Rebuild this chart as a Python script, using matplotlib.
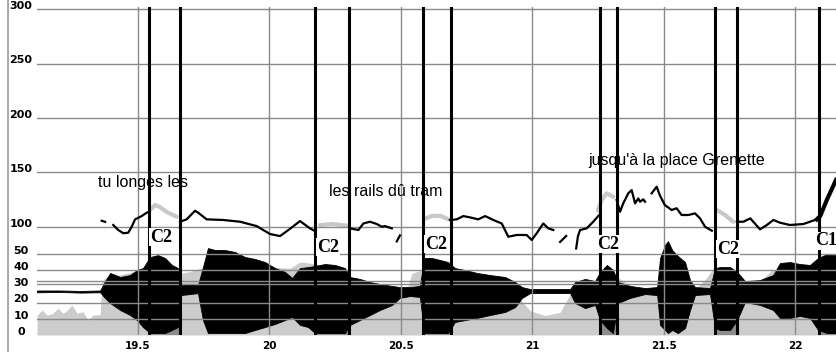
import numpy as np
import matplotlib.pyplot as plt
from matplotlib.lines import Line2D
from matplotlib.transforms import ScaledTranslation

# time axis (s)
x_ticks = [19.5, 20.0, 20.5, 21.0, 21.5, 22.0]
x_labels = ['19.5', '20', '20.5', '21', '21.5', '22']
f0_ticks = [100, 150, 200, 250, 300]
amp_ticks = [0, 10, 20, 30, 40, 50]
amp_grid = [10, 20, 31.4, 33.4, 40, 50]

# segment boundaries (black vertical lines)
bounds = [19.543, 19.661, 20.174, 20.303, 20.585, 20.691, 21.258, 21.322,
          21.695, 21.777, 22.089]
dark_spans = [(19.543, 19.661), (20.174, 20.303), (20.585, 20.691),
              (21.258, 21.322), (21.695, 21.777), (22.089, 22.155)]

# labels on segments
seg_t = [19.589, 20.223, 20.634, 21.288, 21.744, 22.117]
seg_hz = [90.5, 81.3, 84.1, 84.1, 79.5, 86.9]
seg_txt = ['C2', 'C2', 'C2', 'C2', 'C2', 'C1']

# words
word_t = [19.349, 20.227, 21.212]
word_hz = [141.1, 132.8, 161.3]
word_txt = ['tu longes les', 'les rails dû tram', "jusqu'à la place Grenette"]

# F0 track (Hz), black pieces
f0_black = [
    ([19.363, 19.376], [105.5, 104.5]),
    ([19.407, 19.426, 19.445, 19.464, 19.477, 19.490, 19.515, 19.534, 19.543],
     [101.6, 97, 94, 94.5, 100, 106.8, 109.8, 112.9, 114]),
    ([19.661, 19.686, 19.718, 19.730, 19.762, 19.825, 19.889, 19.952, 20.003,
      20.041, 20.073, 20.117, 20.155, 20.174],
     [104.6, 106.8, 114.7, 112.9, 106.8, 106.2, 104.6, 100.6, 93.3, 91.4, 97,
      105.2, 98.5, 96]),
    ([20.307, 20.339, 20.358, 20.383, 20.409, 20.428, 20.440, 20.466],
     [98.5, 97, 103, 104.6, 102.5, 100, 100.6, 98.5]),
    ([20.485, 20.497], [86.5, 92]),
    ([20.687, 20.713, 20.738, 20.763, 20.795, 20.821, 20.852, 20.884, 20.909,
      20.941, 20.979, 20.998, 21.017, 21.042, 21.061, 21.080],
     [106.2, 106.8, 109.8, 108.6, 106.8, 109.8, 106.2, 103, 90.8, 92.4, 92.4,
      87.8, 94, 103, 98.5, 97]),
    ([21.106, 21.129], [86, 91.5]),
    ([21.167, 21.174, 21.182, 21.207, 21.232, 21.251, 21.257],
     [80, 91.5, 97, 98.5, 104.6, 109.8, 111]),
    ([21.321, 21.334, 21.346, 21.365, 21.378, 21.391, 21.403, 21.410, 21.422,
      21.429],
     [124.6, 113.8, 121.5, 130.7, 133.7, 121.5, 126, 123, 125.2, 123]),
    ([21.454, 21.473, 21.485, 21.504, 21.530, 21.549, 21.568, 21.594, 21.619,
      21.638, 21.657, 21.683],
     [130.7, 136.8, 129, 120, 115.4, 117, 110.8, 110.8, 112.3, 107.7, 100,
      96.3]),
    ([21.778, 21.803, 21.829, 21.866, 21.892, 21.917, 21.942, 21.980, 22.031,
      22.082],
     [104.6, 104.6, 107.7, 97.6, 101.6, 106.2, 103.7, 101.6, 102.5, 106.8]),
]
f0_thick_t = [22.082, 22.095, 22.120, 22.155]
f0_thick_hz = [106.8, 109.8, 124.6, 143]

# F0 (grey, inside segments)
f0_grey = [
    ([19.547, 19.566, 19.585, 19.611, 19.648], [115.4, 120, 118, 113.5, 109.2]),
    ([20.193, 20.240, 20.295], [101.5, 102.5, 101]),
    ([20.588, 20.620, 20.650, 20.680], [107, 110, 110, 107]),
    ([21.250, 21.264, 21.283, 21.308], [115, 124.6, 130.7, 127.6]),
    ([21.702, 21.733, 21.764], [115.4, 110.8, 104.6]),
]

# intensity (grey area)
int_t = [19.117, 19.136, 19.155, 19.174, 19.197, 19.216, 19.231, 19.250,
         19.269, 19.292, 19.311, 19.330, 19.357, 19.364, 19.383, 19.433,
         19.482, 19.547, 19.623, 19.661, 19.699, 19.737, 19.794, 19.889,
         20.003, 20.079, 20.117, 20.167, 20.231, 20.303, 20.383, 20.459,
         20.497, 20.516, 20.543, 20.581, 20.649, 20.691, 20.764, 20.878,
         20.954, 20.992, 21.049, 21.106, 21.144, 21.182, 21.250, 21.288,
         21.322, 21.372, 21.410, 21.486, 21.562, 21.619, 21.657, 21.684,
         21.714, 21.779, 21.828, 21.885, 21.912, 21.980, 22.087, 22.155]
int_v = [12, 15.4, 12.3, 13, 16.4, 13.4, 15, 18.5, 13.4, 14.3, 9.2, 12.3,
         12.5, 33, 36, 37, 39, 41, 40, 38, 39, 41, 42, 43, 42, 41, 45, 44, 40,
         36, 32, 24, 21, 24, 38, 40, 42, 38, 30, 24, 22, 15, 12, 14, 25, 28,
         33, 40, 36, 30, 26, 28, 30, 28, 34, 40, 36, 32, 30, 36, 40, 36, 38,
         38]

# waveform envelope
wave_t = [19.117, 19.205, 19.281, 19.357, 19.372, 19.395, 19.433, 19.471,
          19.497, 19.520, 19.547, 19.577, 19.604, 19.630, 19.653, 19.665,
          19.699, 19.729, 19.748, 19.767, 19.794, 19.832, 19.870, 19.908,
          19.946, 19.984, 20.022, 20.060, 20.087, 20.117, 20.148, 20.174,
          20.212, 20.250, 20.288, 20.307, 20.345, 20.383, 20.421, 20.467,
          20.497, 20.535, 20.573, 20.589, 20.619, 20.649, 20.680, 20.706,
          20.745, 20.790, 20.840, 20.897, 20.935, 20.961, 20.992, 21.068,
          21.144, 21.163, 21.201, 21.239, 21.258, 21.284, 21.307, 21.326,
          21.372, 21.429, 21.475, 21.486, 21.505, 21.516, 21.532, 21.554,
          21.581, 21.600, 21.619, 21.676, 21.695, 21.714, 21.752, 21.779,
          21.809, 21.866, 21.916, 21.942, 21.980, 22.018, 22.056, 22.087,
          22.121, 22.155]
wave_hi = [27.4, 27.4, 27.1, 27.4, 32, 38.2, 35.7, 36.9, 40, 41.2, 48, 49.2,
           47.4, 43.1, 41.2, 30.8, 31.4, 30.8, 41.8, 53.5, 52.3, 52.3, 51.1,
           48, 46.8, 44.9, 41.2, 38.8, 35.1, 41.2, 41.8, 42.5, 43.7, 43.1,
           41.2, 35.7, 34.5, 32.6, 31.4, 30.2, 29.5, 29.5, 30.2, 47.4, 47.4,
           46.2, 44.9, 41.2, 40, 38.2, 36.9, 35.7, 32.6, 29.5, 28.3, 28.3,
           28.3, 32.6, 34.5, 33.2, 38.8, 43.1, 40, 32.6, 30.2, 28.9, 29.5,
           47.4, 55.4, 57.8, 52.3, 48.6, 44.9, 33.8, 29.5, 28.9, 41.2, 41.8,
           41.8, 38.8, 33.2, 33.8, 36.9, 44.3, 44.9, 43.7, 43.1, 47.4, 49.8,
           49.2]
wave_lo = [26.3, 26.5, 26.1, 26.3, 23.4, 19.7, 15.4, 12.3, 9.2, 4.9, 1.2, 1.2,
           1.2, 3.1, 4.9, 24.6, 25.2, 25.8, 9.2, 1.2, 1.2, 1.2, 1.2, 1.2, 3.1,
           4.9, 6.8, 9.2, 11.1, 6.2, 4.9, 1.2, 1.2, 1.2, 1.2, 6.2, 9.2, 12.3,
           15.4, 18.5, 22.8, 24, 23.4, 1.2, 1.2, 1.2, 1.2, 8, 9.2, 10.5, 12.3,
           14.2, 17.2, 22.8, 25.8, 25.8, 25.8, 19.7, 16.6, 18.5, 9.2, 4.3, 1.2,
           19.7, 22.8, 25.2, 24.6, 6.2, 3.1, 1.2, 3.1, 1.2, 4.3, 15.4, 24.6,
           25.2, 4.3, 3.1, 3.1, 9.2, 20.3, 18.5, 15.4, 10.5, 10.5, 11.7, 10.5,
           3.1, 1.2, 1.2]

fig = plt.figure(figsize=(8.36, 3.52), dpi=100)
ax_bot = fig.add_axes([0.04426, 0.048295, 0.95574, 0.25568])
ax_top = fig.add_axes([0.04426, 0.30398, 0.95574, 0.67614])
ax_top.set_zorder(2)

grid_c = '#8a8a8a'
for ax in (ax_top, ax_bot):
    ax.set_xlim(19.117, 22.155)
    ax.patch.set_visible(False)
    for s in ax.spines.values():
        s.set_visible(False)
    ax.tick_params(length=0)
    for x in x_ticks:
        ax.axvline(x, color=grid_c, lw=1.0, zorder=3)
    for b in bounds:
        ax.axvline(b, color='black', lw=2.2, zorder=4)

# top panel: F0
ax_top.set_ylim(83.2, 302.1)
for h in f0_ticks:
    ax_top.axhline(h, color=grid_c, lw=1.0, zorder=3)
ax_top.set_xticks([])
ax_top.set_yticks(f0_ticks)
ax_top.set_yticklabels([str(v) for v in f0_ticks], fontsize=8,
                       fontweight='bold', ha='center')
ax_top.tick_params(axis='y', pad=11.5)

for t, hz in f0_grey:
    ax_top.plot(t, hz, color='#c8c8c8', lw=3, solid_capstyle='round', zorder=2)
for t, hz in f0_black:
    ax_top.plot(t, hz, color='black', lw=1.6, zorder=5, clip_on=False)
ax_top.plot(f0_thick_t, f0_thick_hz, color='black', lw=3, zorder=5)

for t, hz, s in zip(word_t, word_hz, word_txt):
    ax_top.text(t, hz, s, fontsize=11.5, family='Liberation Sans',
                ha='left', va='center', zorder=6)
for t, hz, s in zip(seg_t, seg_hz, seg_txt):
    ax_top.text(t, hz, s, fontsize=13, family='Liberation Serif',
                fontweight='bold', ha='center', va='center', zorder=7,
                clip_on=False,
                bbox=dict(facecolor='white', edgecolor='none', pad=0.6))

# bottom panel: intensity + waveform
ax_bot.set_ylim(0, 55.4)
for v in amp_grid:
    ax_bot.axhline(v, color=grid_c, lw=1.0, zorder=3)
ax_bot.set_yticks(amp_ticks)
ax_bot.set_yticklabels([str(v) for v in amp_ticks], fontsize=8,
                       fontweight='bold', ha='center')
ax_bot.tick_params(axis='y', pad=11.5)
ax_bot.set_xticks(x_ticks)
ax_bot.set_xticklabels(x_labels, fontsize=7.5, fontweight='bold')
ax_bot.tick_params(axis='x', pad=4)

poly = ax_bot.fill_between(int_t, 0, int_v, color='#cccccc', lw=0, zorder=1)
clip = poly.get_paths()[0]
for a, b in dark_spans:
    r = ax_bot.axvspan(a, b, color='#8c8c8c', lw=0, zorder=1.5)
    r.set_clip_path(clip, ax_bot.transData)

ax_bot.fill_between(wave_t, wave_lo, wave_hi, facecolor='black',
                    edgecolor='black', lw=0.6, zorder=2, clip_on=False)

shift = ScaledTranslation(0, 3 / 72, fig.dpi_scale_trans)
for lab in ax_top.get_yticklabels() + ax_bot.get_yticklabels():
    lab.set_transform(lab.get_transform() + shift)

fig.add_artist(Line2D([7.5 / 836, 7.5 / 836], [0, 1], transform=fig.transFigure,
                      color='#999999', lw=1.2))

fig.savefig('out.png', dpi=100)
